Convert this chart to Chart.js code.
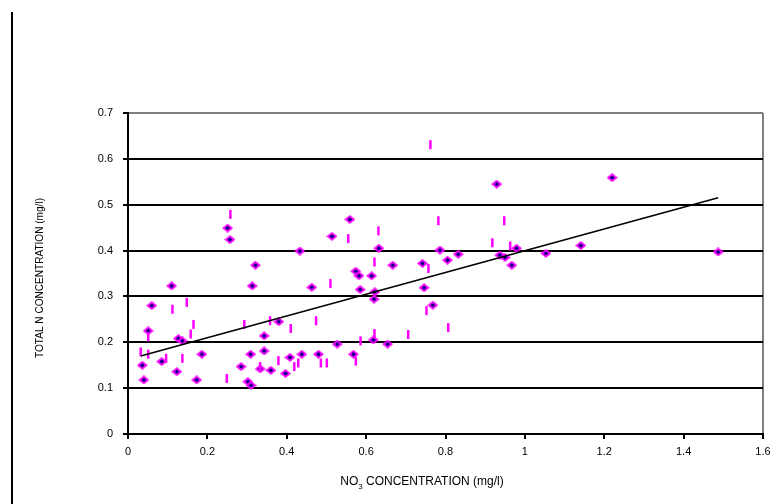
<!DOCTYPE html>
<html>
<head>
<meta charset="utf-8">
<script src="https://cdn.jsdelivr.net/npm/chart.js@4"></script>
<style>
  body { margin: 0; background: #fff; }
  #wrap { position: relative; width: 780px; height: 504px; }
  #pageLine { position: absolute; left: 11px; top: 12px; width: 2px; height: 492px; background: #000; }
</style>
</head>
<body>
<div id="wrap">
  <div id="pageLine"></div>
  <canvas id="grafico"></canvas>
</div>
<script>
// diamond series: NO3 (x) vs total N (y)
const diamondX = [0.110, 0.313, 0.463, 0.060, 0.051, 0.127, 0.137, 0.343, 0.380, 0.527,
                  0.036, 0.085, 0.186, 0.309, 0.343, 0.408, 0.438, 0.480, 0.040, 0.123,
                  0.173, 0.285, 0.333, 0.360, 0.397, 0.302, 0.310, 0.251, 0.257, 0.433,
                  0.321, 0.514, 0.929, 0.559, 0.632, 0.786, 0.979, 0.832, 0.937, 0.950,
                  1.053, 0.805, 0.967, 0.667, 0.742, 0.574, 0.582, 0.614, 0.585, 0.622,
                  0.620, 0.746, 0.768, 0.618, 0.654, 0.568, 1.220, 1.141, 1.487];
const diamondY = [0.323, 0.323, 0.320, 0.280, 0.225, 0.208, 0.203, 0.214, 0.245, 0.196,
                  0.150, 0.158, 0.174, 0.174, 0.181, 0.167, 0.174, 0.174, 0.118, 0.136,
                  0.118, 0.147, 0.142, 0.139, 0.132, 0.114, 0.106, 0.449, 0.424, 0.399,
                  0.368, 0.431, 0.545, 0.468, 0.405, 0.401, 0.405, 0.392, 0.390, 0.385,
                  0.394, 0.379, 0.368, 0.368, 0.372, 0.355, 0.345, 0.345, 0.315, 0.310,
                  0.294, 0.319, 0.281, 0.205, 0.196, 0.174, 0.559, 0.411, 0.397];

// bar-marker series
const barX = [0.032, 0.051, 0.051, 0.112, 0.148, 0.165, 0.158, 0.096, 0.137, 0.249,
              0.293, 0.358, 0.410, 0.474, 0.510, 0.379, 0.333, 0.419, 0.429, 0.486,
              0.501, 0.258, 0.762, 0.782, 0.948, 0.631, 0.555, 0.918, 0.963, 0.621,
              0.757, 0.752, 0.807, 0.706, 0.621, 0.586, 0.574];
const barY = [0.179, 0.174, 0.212, 0.272, 0.287, 0.239, 0.218, 0.165, 0.165, 0.121,
              0.239, 0.247, 0.230, 0.247, 0.328, 0.160, 0.147, 0.147, 0.155, 0.155,
              0.155, 0.479, 0.631, 0.465, 0.465, 0.443, 0.426, 0.417, 0.410, 0.375,
              0.361, 0.269, 0.232, 0.217, 0.219, 0.203, 0.159];

// linear trend line ends
const trendX = [0.032, 1.487];
const trendY = [0.170, 0.515];

const xTickLabels = ["0", "0.2", "0.4", "0.6", "0.8", "1", "1.2", "1.4", "1.6"];
const yTickLabels = ["0", "0.1", "0.2", "0.3", "0.4", "0.5", "0.6", "0.7"];

function puntos(xs, ys) {
    return xs.map((x, i) => ({ x: x, y: ys[i] }));
}

function iconoRombo() {
    const c = document.createElement("canvas");
    c.width = 11;
    c.height = 9;
    const g = c.getContext("2d");
    g.fillStyle = "#ff00ff";
    g.beginPath();
    g.moveTo(5.5, 0); g.lineTo(11, 4.5); g.lineTo(5.5, 9); g.lineTo(0, 4.5);
    g.closePath();
    g.fill();
    g.fillStyle = "#000080";
    g.beginPath();
    g.moveTo(5.5, 2.3); g.lineTo(8, 4.5); g.lineTo(5.5, 6.7); g.lineTo(3, 4.5);
    g.closePath();
    g.fill();
    return c;
}

Chart.defaults.font.family = '"Liberation Sans", Arial, sans-serif';
Chart.defaults.color = "#000";

const FUENTE = '"Liberation Sans", Arial, sans-serif';

// axis titles drawn as text on the canvas
const titulos = {
    id: "titulos",
    afterDraw(chart) {
        const ctx = chart.ctx;
        ctx.save();
        ctx.fillStyle = "#000";
        ctx.textBaseline = "middle";

        // y title (slightly condensed like the original)
        const ty = "TOTAL N CONCENTRATION (mg/l)";
        ctx.save();
        ctx.font = "11px " + FUENTE;
        const sy = 160 / ctx.measureText(ty).width;
        ctx.translate(40, 278);
        ctx.rotate(-Math.PI / 2);
        ctx.scale(sy, 1);
        ctx.textAlign = "center";
        ctx.fillText(ty, 0, 0);
        ctx.restore();

        // x title with subscript
        const a = "NO", b = "3", c = " CONCENTRATION (mg/l)";
        ctx.font = "12px " + FUENTE;
        const wa = ctx.measureText(a).width;
        const wc = ctx.measureText(c).width;
        ctx.font = "8px " + FUENTE;
        const wb = ctx.measureText(b).width;
        let x = 422 - (wa + wb + wc) / 2;
        const y = 482;
        ctx.textAlign = "left";
        ctx.font = "12px " + FUENTE;
        ctx.fillText(a, x, y);
        x += wa;
        ctx.font = "8px " + FUENTE;
        ctx.fillText(b, x, y + 5);
        x += wb;
        ctx.font = "12px " + FUENTE;
        ctx.fillText(c, x, y);
        ctx.restore();
    }
};

const grafico = new Chart(document.getElementById("grafico"), {
    type: "scatter",
    data: {
        datasets: [
            {
                label: "Trend",
                type: "line",
                data: puntos(trendX, trendY),
                borderColor: "#000",
                borderWidth: 1.6,
                pointRadius: 0,
                fill: false,
                order: 0
            },
            {
                label: "Series 2",
                data: puntos(barX, barY),
                pointStyle: "line",
                rotation: 90,
                radius: 4.5,
                borderColor: "#ff00ff",
                borderWidth: 2.5,
                order: 1
            },
            {
                label: "Series 1",
                data: puntos(diamondX, diamondY),
                pointStyle: iconoRombo(),
                radius: 5,
                order: 2
            }
        ]
    },
    options: {
        responsive: true,
        maintainAspectRatio: false,
        animation: false,
        layout: { padding: { left: 0, top: 113, right: 17, bottom: 0 } },
        plugins: {
            legend: { display: false },
            tooltip: { enabled: false }
        },
        scales: {
            x: {
                type: "linear",
                min: 0,
                max: 1.6,
                afterFit: (s) => { s.height = 70; },
                ticks: {
                    stepSize: 0.2,
                    padding: 6,
                    font: { size: 11 },
                    callback: (v, i) => xTickLabels[i]
                },
                grid: {
                    drawOnChartArea: true,
                    color: (c) => c.index === 8 ? "#808080" : "rgba(0,0,0,0)",
                    tickColor: "#000",
                    tickLength: 5,
                    lineWidth: 2
                },
                border: { color: "#000", width: 2 }
            },
            y: {
                type: "linear",
                min: 0,
                max: 0.7,
                afterFit: (s) => { s.width = 128; },
                ticks: {
                    stepSize: 0.1,
                    padding: 10,
                    font: { size: 11 },
                    callback: (v, i) => yTickLabels[i]
                },
                grid: {
                    color: (c) => c.index === 7 ? "#808080" : "#000",
                    tickColor: "#000",
                    tickLength: 5,
                    lineWidth: 2
                },
                border: { color: "#000", width: 2 }
            }
        }
    },
    plugins: [titulos]
});
</script>
</body>
</html>
